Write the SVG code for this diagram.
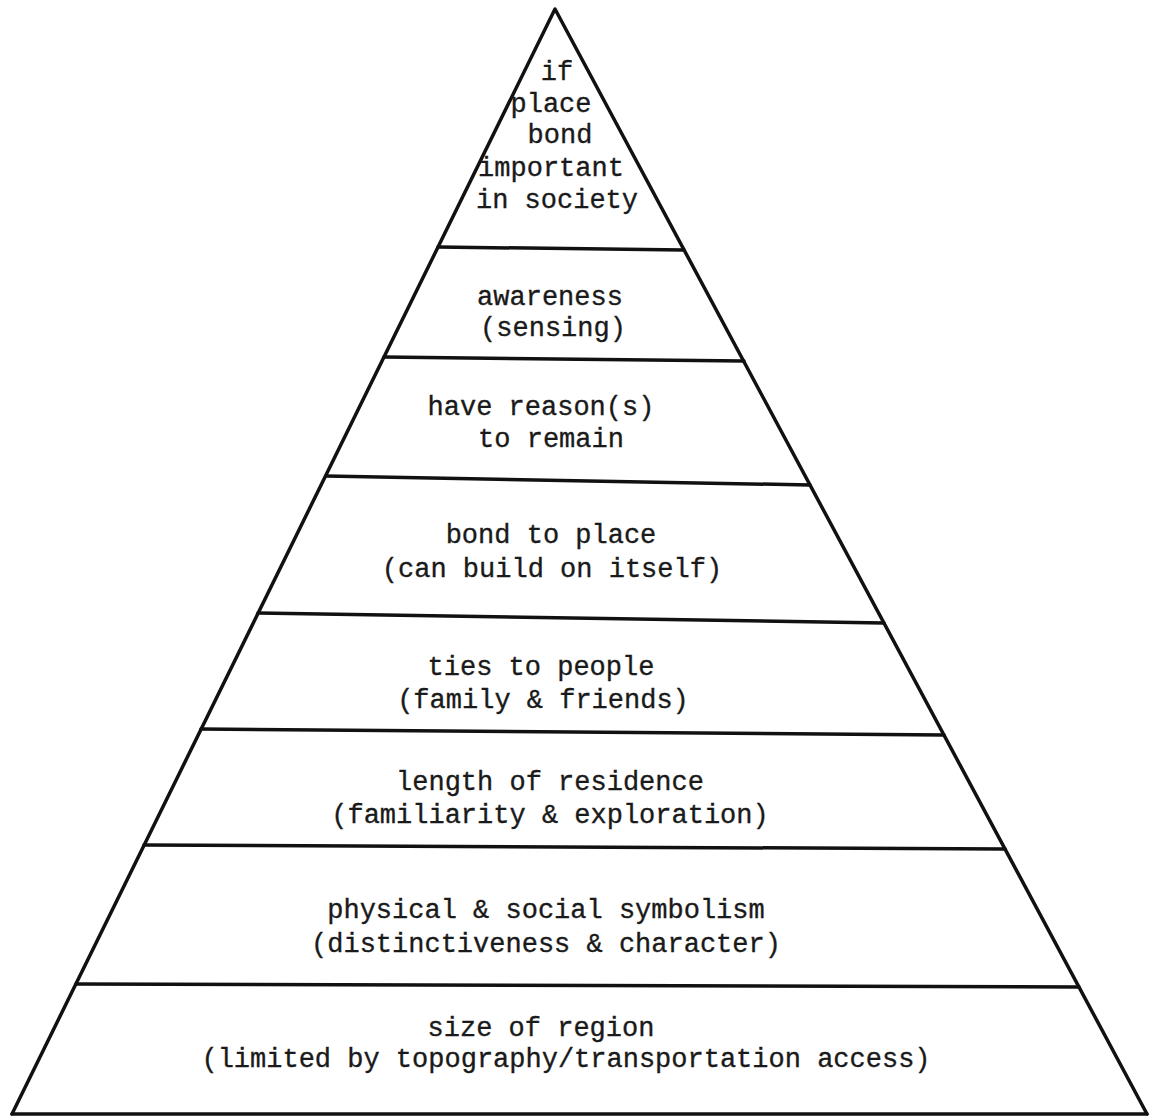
<svg xmlns="http://www.w3.org/2000/svg" width="1151" height="1117" viewBox="0 0 1151 1117">
<style>
.edge{stroke:#111;stroke-width:3.5;fill:none;stroke-linecap:round;stroke-linejoin:round}
.div{stroke:#111;stroke-width:3.5;fill:none;stroke-linecap:round}
text{font-family:"Liberation Mono","DejaVu Sans Mono",monospace;font-size:27px;fill:#1a1a1a;text-anchor:middle;stroke:#1a1a1a;stroke-width:0.35}
</style>
<rect width="1151" height="1117" fill="#ffffff"/>
<g id="connectors">
<polyline class="edge" points="12,1114 555,9 1147,1114"/>
<line class="div" x1="12" y1="1114" x2="1147" y2="1114"/>
<line class="div" x1="438" y1="247" x2="684" y2="250"/>
<line class="div" x1="384" y1="357" x2="744" y2="361"/>
<line class="div" x1="326" y1="476" x2="810" y2="485"/>
<line class="div" x1="258" y1="613" x2="884" y2="623"/>
<line class="div" x1="201" y1="729" x2="944" y2="735"/>
<line class="div" x1="144" y1="845" x2="1005" y2="849"/>
<line class="div" x1="76" y1="984" x2="1079" y2="987"/>
</g>
<g id="tier-apex">
<text x="557" y="80">if</text>
<text x="551" y="112">place</text>
<text x="560" y="143">bond</text>
<text x="551" y="176">important</text>
<text x="557" y="208">in society</text>
</g>
<g id="tier-awareness">
<text x="550" y="305">awareness</text>
<text x="553" y="336">(sensing)</text>
</g>
<g id="tier-reasons">
<text x="541" y="415">have reason(s)</text>
<text x="551" y="447">to remain</text>
</g>
<g id="tier-bond">
<text x="551" y="543">bond to place</text>
<text x="552" y="577">(can build on itself)</text>
</g>
<g id="tier-ties">
<text x="541" y="675">ties to people</text>
<text x="543" y="708">(family &amp; friends)</text>
</g>
<g id="tier-residence">
<text x="550" y="790">length of residence</text>
<text x="550" y="823">(familiarity &amp; exploration)</text>
</g>
<g id="tier-symbolism">
<text x="546" y="918">physical &amp; social symbolism</text>
<text x="546" y="952">(distinctiveness &amp; character)</text>
</g>
<g id="tier-region">
<text x="541" y="1036">size of region</text>
<text x="566" y="1067">(limited by topography/transportation access)</text>
</g>
</svg>
